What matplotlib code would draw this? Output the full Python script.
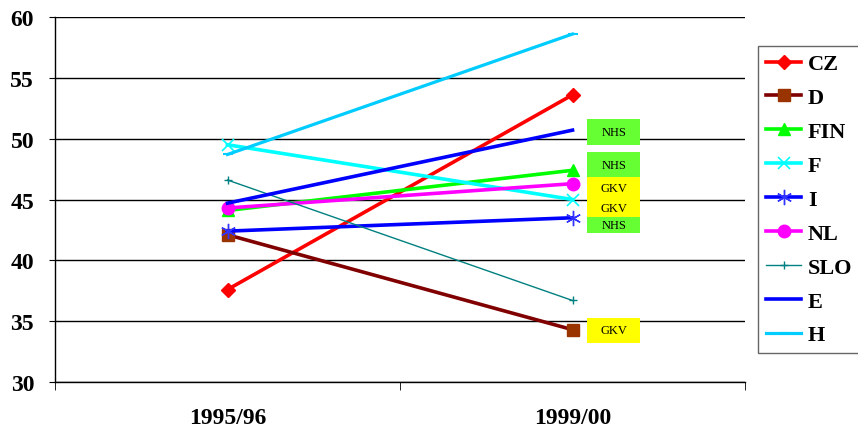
import matplotlib
matplotlib.use("Agg")
import matplotlib.pyplot as plt
from matplotlib.patches import Rectangle

periods = ["1995/96", "1999/00"]
countries = ["CZ", "D", "FIN", "F", "I", "NL", "SLO", "E", "H"]
values = {
    "CZ":  [37.6, 53.6],
    "D":   [42.1, 34.3],
    "FIN": [44.1, 47.4],
    "F":   [49.5, 45.0],
    "I":   [42.4, 43.5],
    "NL":  [44.3, 46.3],
    "SLO": [46.6, 36.7],
    "E":   [44.7, 50.7],
    "H":   [48.7, 58.6],
}
box_labels = ["NHS", "NHS", "GKV", "GKV", "NHS", "GKV"]
box_bottoms = [49.48, 46.85, 45.12, 43.56, 42.25, 33.21]
box_tops = [51.62, 48.90, 46.85, 45.12, 43.56, 35.26]

styles = {
    "CZ":  dict(color="#FF0000", marker="D", ms=7, lw=2.6, mfc="#FF0000", mec="#FF0000"),
    "D":   dict(color="#800000", marker="s", ms=8, lw=2.6, mfc="#993300", mec="#993300"),
    "FIN": dict(color="#00FF00", marker="^", ms=9, lw=2.6, mfc="#00FF00", mec="#00FF00"),
    "F":   dict(color="#00FFFF", marker="x", ms=9, lw=2.6, mew=1.2),
    "I":   dict(color="#0000FF", marker=(6, 2, 0), ms=11, lw=2.6, mec="#3333FF", mew=1.0),
    "NL":  dict(color="#FF00FF", marker="o", ms=9, lw=2.6, mfc="#FF00FF", mec="#FF00FF"),
    "SLO": dict(color="#008080", marker="+", ms=6, lw=1.0, mew=1.0),
    "E":   dict(color="#0000FF", marker=None, lw=2.6),
    "H":   dict(color="#00CCFF", marker="_", ms=7, lw=2.3, mew=1.5),
}

fig = plt.figure(figsize=(8.58, 4.35), dpi=100)
ax = fig.add_axes([55/858, (435-383)/435, (745-55)/858, (383-18)/435])

x = list(range(len(periods)))
for c in countries:
    ax.plot(x, values[c], label=c, **styles[c])

ax.set_xlim(-0.5, 1.5)
ax.set_ylim(30, 60)
ax.set_yticks(range(30, 61, 5))
ax.yaxis.grid(True, color="black", lw=1.0)
ax.set_axisbelow(True)
for s in ["top", "right"]:
    ax.spines[s].set_visible(False)
ax.spines["left"].set_linewidth(1.0)
ax.spines["bottom"].set_linewidth(1.0)

serif = ["Liberation Serif", "DejaVu Serif"]
ax.set_xticks(x)
ax.set_xticklabels(periods, fontsize=17, fontweight="bold", family=serif)
ax.set_xticks([-0.5, 0.5, 1.5], minor=True)
ax.tick_params(axis="x", which="major", length=0, pad=18)
ax.tick_params(axis="x", which="minor", length=6, direction="out")
ax.tick_params(axis="y", length=4, direction="out", pad=11)
for lab in ax.get_yticklabels():
    lab.set_fontsize(17)
    lab.set_fontweight("bold")
    lab.set_family(serif)

bx0, bx1 = 1.043, 1.197
for lab, b, t in zip(box_labels, box_bottoms, box_tops):
    col = "#66FF33" if lab == "NHS" else "#FFFF00"
    ax.add_patch(Rectangle((bx0, b), bx1 - bx0, t - b, fc=col, ec="none",
                           clip_on=False, zorder=3))
    ax.text((bx0 + bx1) / 2, (b + t) / 2, lab, fontsize=9, family=serif,
            ha="center", va="center", zorder=4)

leg = fig.legend(loc="upper left", bbox_to_anchor=(758/858, (435-47)/435),
                 prop=dict(family=serif, weight="bold", size=16),
                 frameon=True, fancybox=False, edgecolor="#404040",
                 handlelength=1.6, handletextpad=0.3, labelspacing=0.6,
                 borderpad=0.35, borderaxespad=0)
leg.get_frame().set_linewidth(1.0)

fig.savefig("out.png", dpi=100)
